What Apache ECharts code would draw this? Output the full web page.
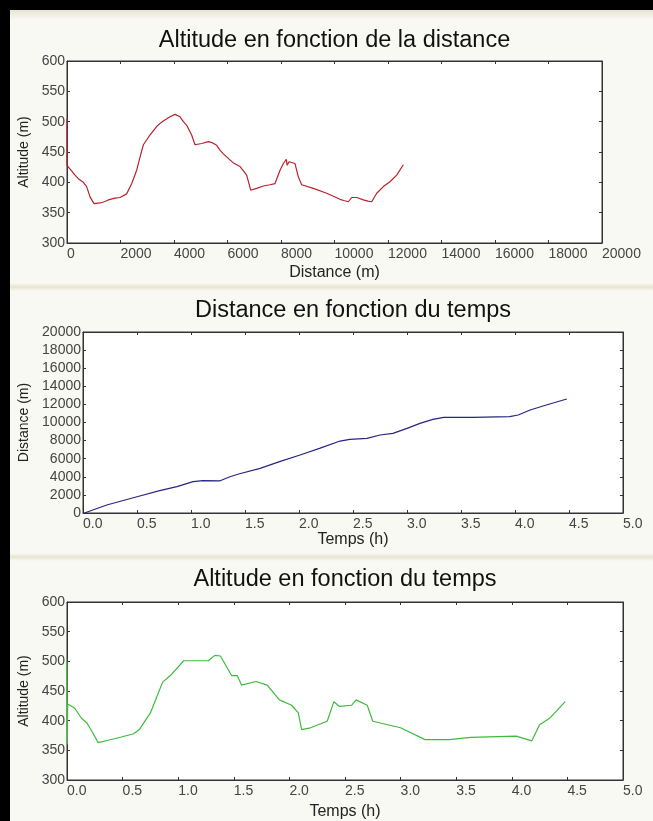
<!DOCTYPE html>
<html><head><meta charset="utf-8">
<script src="https://cdn.jsdelivr.net/npm/echarts@6/dist/echarts.min.js"></script>
<style>html,body{margin:0;padding:0;background:#000;}#c{width:653px;height:821px;}</style>
</head><body><div id="c"></div>
<script>
// Panel 1 : altitude as a function of distance
const profileDistance = [0,0,0,150,300,450,610,735,860,1010,1235,1400,1545,1795,1980,2230,2420,2605,2750,2855,3100,3350,3500,3600,3850,4040,4225,4350,4475,4660,4785,5035,5285,5450,5595,5720,5845,6093,6220,6470,6717,6866,7090,7340,7590,7776,7963,8090,8150,8200,8230,8300,8523,8648,8773,9210,9708,10205,10350,10517,10642,10830,11078,11250,11390,11578,11826,12075,12325,12573];
const profileAltitude = [505,470,428,420,412,405,400,393,376,365,366,368,371,374,375,381,398,420,445,462,478,492,498,501,508,512,508,500,494,478,462,464,467,465,461,453,447,437,432,426,412,387,390,394,396,398,420,431,432,438,428,434,431,409,396,390,382,372,370,368,375,375,371,369,368,382,393,401,412,429];
// Panel 2 : distance as a function of time
const trackTime = [0,0.02,0.22,0.5,0.71,0.87,1.02,1.11,1.27,1.36,1.45,1.64,1.82,2.01,2.19,2.38,2.47,2.63,2.75,2.87,3.0,3.12,3.24,3.34,3.61,3.95,4.03,4.14,4.29,4.48];
const trackDistance = [0,30,880,1800,2470,2910,3460,3570,3560,4010,4340,4930,5670,6410,7140,7950,8140,8250,8620,8800,9350,9900,10350,10570,10570,10640,10830,11380,11930,12600];
// Panel 3 : altitude as a function of time
const climbTime = [0,0.003,0.006,0.016,0.07,0.13,0.18,0.23,0.28,0.37,0.48,0.6,0.65,0.75,0.86,0.93,1.05,1.27,1.33,1.38,1.48,1.53,1.57,1.7,1.8,1.91,2.02,2.08,2.11,2.19,2.34,2.4,2.45,2.56,2.6,2.7,2.75,3.0,3.22,3.44,3.63,4.04,4.18,4.25,4.34,4.48];
const climbAltitude = [500,360,428,427,421,404,396,380,363,367,372,378,385,413,465,476,501,501,510,509,476,476,460,466,460,435,426,413,385,388,399,432,424,426,435,426,399,388,368,368,372,374,366,393,404,432];

const titles = ['Altitude en fonction de la distance','Distance en fonction du temps','Altitude en fonction du temps'];
const xNames = ['Distance (m)','Temps (h)','Temps (h)'];
const yNames = ['Altitude (m)','Distance (m)','Altitude (m)'];
const xRanges = [[0,20000,2000],[0,5,0.5],[0,5,0.5]];
const yRanges = [[300,600,50],[0,20000,2000],[300,600,50]];
const lineColors = ['#b8222c','#262680','#3dbb3d'];

const FONT = 'Liberation Sans, Arial, sans-serif';
const grids = [
  {left:67, top:61, width:535, height:182},
  {left:83, top:332, width:540, height:181},
  {left:67, top:602, width:556, height:181}
];
const xNameGap = [22, 19, 24];
const yNameGap = [30, 44, 27];

const pairs = [
  profileDistance.map((d,i)=>[d, profileAltitude[i]]),
  trackTime.map((t,i)=>[t, trackDistance[i]]),
  climbTime.map((t,i)=>[t, climbAltitude[i]])
];

const axisCol = '#333';
const xAxes = [], yAxes = [], series = [], titleOpts = [];
grids.forEach((g,i)=>{
  const fmtX = i===0 ? (v=>String(v)) : (v=>v.toFixed(1));
  const base = (r)=>({min:r[0], max:r[1], interval:r[2], splitLine:{show:false},
    axisLine:{show:true, onZero:false, lineStyle:{color:axisCol, width:1}},
    axisTick:{show:true, inside:true, length:3, lineStyle:{color:axisCol}}});
  xAxes.push(Object.assign(base(xRanges[i]), {gridIndex:i, type:'value', position:'bottom',
    name:xNames[i], nameLocation:'middle', nameGap:xNameGap[i],
    nameTextStyle:{fontFamily:FONT, fontSize:16, color:'#222'},
    axisLabel:{show:true, align:'left', margin:4, fontFamily:FONT, fontSize:14, color:'#444', formatter:fmtX}}));
  xAxes.push(Object.assign(base(xRanges[i]), {gridIndex:i, type:'value', position:'top', axisLabel:{show:false}}));
  yAxes.push(Object.assign(base(yRanges[i]), {gridIndex:i, type:'value', position:'left',
    name:yNames[i], nameLocation:'middle', nameGap:yNameGap[i],
    nameTextStyle:{fontFamily:FONT, fontSize:14, color:'#222'},
    axisLabel:{show:true, margin:2, fontFamily:FONT, fontSize:14, color:'#444', formatter:v=>String(v)}}));
  yAxes.push(Object.assign(base(yRanges[i]), {gridIndex:i, type:'value', position:'right', axisLabel:{show:false}}));
  series.push({type:'line', xAxisIndex:2*i, yAxisIndex:2*i, data:pairs[i], showSymbol:false, symbol:'none',
    lineStyle:{color:lineColors[i], width:1.2}, animation:false});
  titleOpts.push({text:titles[i], left:g.left+g.width/2, top:[29,299,568][i], textAlign:'center', padding:0,
    textStyle:{fontFamily:FONT, fontSize:23.5, fontWeight:'normal', color:'#111'}});
});

const chart = echarts.init(document.getElementById('c'), null, {renderer:'canvas'});
chart.setOption({
  backgroundColor:'#f9f9f4',
  animation:false,
  title:titleOpts,
  grid:grids.map(g=>Object.assign({show:true, backgroundColor:'#ffffff', borderColor:axisCol, borderWidth:1, containLabel:false}, g)),
  xAxis:xAxes,
  yAxis:yAxes,
  series:series,
  graphic:[
    {type:'rect', shape:{x:0,y:0,width:653,height:10}, style:{fill:'#000'}, z:10},
    {type:'rect', shape:{x:0,y:0,width:10,height:821}, style:{fill:'#000'}, z:10},
    {type:'rect', shape:{x:10,y:10,width:643,height:10}, style:{fill:new echarts.graphic.LinearGradient(0,0,0,1,[{offset:0,color:'#e8e4cf'},{offset:1,color:'#f9f9f4'}])}, z:1},
    {type:'rect', shape:{x:10,y:283,width:643,height:8}, style:{fill:new echarts.graphic.LinearGradient(0,0,0,1,[{offset:0,color:'#f9f9f4'},{offset:0.5,color:'#e8e4cf'},{offset:1,color:'#f9f9f4'}])}, z:1},
    {type:'rect', shape:{x:10,y:553,width:643,height:8}, style:{fill:new echarts.graphic.LinearGradient(0,0,0,1,[{offset:0,color:'#f9f9f4'},{offset:0.5,color:'#e8e4cf'},{offset:1,color:'#f9f9f4'}])}, z:1}
  ]
});
</script></body></html>
